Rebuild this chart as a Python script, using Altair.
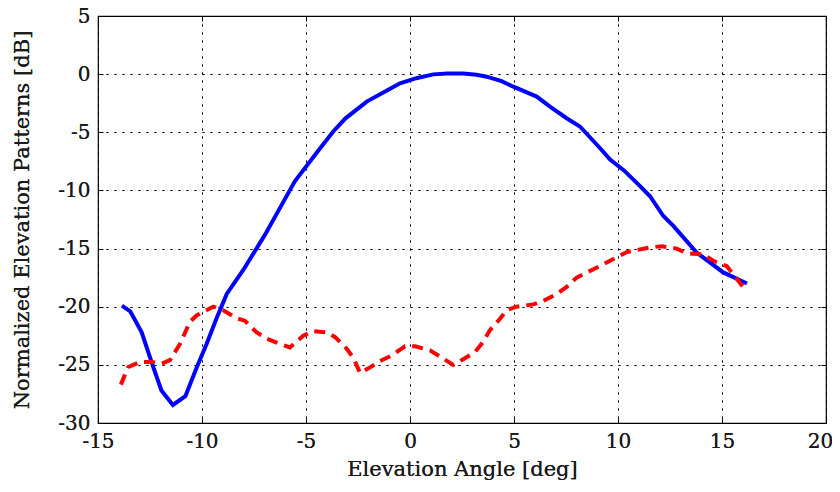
import altair as alt
import pandas as pd

blue_x = [-13.85, -13.45, -12.9, -12.4, -11.95, -11.4, -10.8, -10.25, -9.78, -9.3, -8.81, -8.0,
          -6.97, -6.25, -5.53, -4.33, -3.69, -3.1, -2.08, -1.0, -0.48, 0.3, 1.12, 1.8, 2.56, 3.2,
          3.69, 4.4, 4.97, 6.09, 6.73, 7.53, 8.17, 9.13, 9.62, 10.3, 11.06, 11.54, 12.18, 12.66,
          13.78, 15.06, 16.2]
blue_y = [-19.9, -20.4, -22.2, -24.9, -27.2, -28.45, -27.7, -25.2, -23.2, -21.0, -18.9, -16.8,
          -13.8, -11.5, -9.2, -6.4, -4.93, -3.8, -2.36, -1.3, -0.79, -0.35, -0.02, 0.05, 0.06, -0.05,
          -0.22, -0.6, -1.08, -1.93, -2.79, -3.79, -4.5, -6.35, -7.35, -8.3, -9.63, -10.5, -12.2, -13.05,
          -15.34, -17.05, -18.0]

red_x = [-13.9, -13.56, -12.98, -12.4, -11.94, -11.54, -11.06, -10.58, -10.26, -9.46, -8.98, -8.34,
         -7.94, -7.38, -6.89, -6.25, -5.77, -5.13, -4.65, -4.0, -3.61, -3.05, -2.72, -2.4, -2.0,
         -1.36, -0.88, -0.24, 0.24, 0.96, 1.36, 2.08, 2.48, 3.13, 3.52, 3.85, 4.25, 4.65, 5.13,
         5.93, 6.41, 7.05, 7.53, 8.01, 9.13, 10.42, 11.54, 12.1, 12.82, 13.3, 14.1, 14.58, 15.22,
         15.54, 16.1]
red_y = [-26.7, -25.2, -24.75, -24.75, -24.9, -24.6, -23.2, -21.3, -20.75, -20.0, -20.3, -21.0,
         -21.2, -22.2, -22.75, -23.2, -23.5, -22.5, -22.1, -22.2, -22.6, -23.6, -24.4, -25.7, -25.3,
         -24.6, -24.2, -23.4, -23.4, -23.75, -24.2, -25.0, -24.6, -23.9, -23.0, -22.0, -21.2, -20.3, -20.0,
         -19.8, -19.5, -18.9, -18.3, -17.5, -16.5, -15.3, -14.9, -14.8, -15.0, -15.4, -15.5, -16.05, -16.5,
         -17.2, -18.5]

x_ticks = [-15, -10, -5, 0, 5, 10, 15, 20]
y_ticks = [5, 0, -5, -10, -15, -20, -25, -30]

FONT = "DejaVu Serif"
LABEL_EXPR = "replace(datum.label, '\u2212', '-')"

blue_df = pd.DataFrame({"angle": blue_x, "db": blue_y, "order": range(len(blue_x))})
red_df = pd.DataFrame({"angle": red_x, "db": red_y, "order": range(len(red_x))})

xs = alt.Scale(domain=[-15, 20], nice=False, zero=False)
ys = alt.Scale(domain=[-30, 5], nice=False, zero=False)

H = 407

main_x_axis = alt.Axis(values=x_ticks, title="Elevation Angle [deg]", orient="bottom",
                       ticks=False, domain=False, grid=True, gridColor="#000", gridDash=[2, 6],
                       gridOpacity=0.85, labelPadding=8, labelFont=FONT, labelFontSize=20,
                       labelColor="#1a1a1a", titleFont=FONT, titleFontSize=21, titleFontWeight="normal",
                       titleColor="#1a1a1a", labelOverlap=False, labelBound=False, labelFlush=False,
                       labelExpr=LABEL_EXPR,
                       labelOffset={"condition": {"test": "datum.value == 20", "value": -6}, "value": 0},
                       titleX=364, titleY=46, titleBaseline="middle")
main_y_axis = alt.Axis(values=y_ticks, title="Normalized Elevation Patterns [dB]", orient="left",
                       ticks=False, domain=False, grid=True, gridColor="#000", gridDash=[2, 6],
                       gridOpacity=0.85, labelPadding=8, labelFont=FONT, labelFontSize=20,
                       labelColor="#1a1a1a", titleFont=FONT, titleFontSize=21, titleFontWeight="normal",
                       titleColor="#1a1a1a", labelOverlap=False, labelBound=False, labelFlush=False,
                       labelExpr=LABEL_EXPR,
                       titleX=-76, titleY=H / 2, titleAngle=270, titleBaseline="middle")

blue = alt.Chart(blue_df).mark_line(color="#0000ff", strokeWidth=4).encode(
    x=alt.X("angle:Q", scale=xs, axis=main_x_axis),
    y=alt.Y("db:Q", scale=ys, axis=main_y_axis),
    order="order:Q",
)
red = alt.Chart(red_df).mark_line(color="#ff0000", strokeWidth=4, strokeDash=[11, 7]).encode(
    x=alt.X("angle:Q", scale=xs, axis=main_x_axis),
    y=alt.Y("db:Q", scale=ys, axis=main_y_axis),
    order="order:Q",
)

def tick_axis(orient, values):
    return alt.Axis(values=values, orient=orient, title=None, labels=False, domain=False,
                    grid=False, ticks=True, tickSize=5, tickColor="#000", tickWidth=1, offset=-5)

ticks_tr = alt.Chart(blue_df).mark_line(opacity=0).encode(
    x=alt.X("angle:Q", scale=xs, axis=tick_axis("top", x_ticks)),
    y=alt.Y("db:Q", scale=ys, axis=tick_axis("right", y_ticks)),
)
ticks_bl = alt.Chart(blue_df).mark_line(opacity=0).encode(
    x=alt.X("angle:Q", scale=xs, axis=tick_axis("bottom", x_ticks)),
    y=alt.Y("db:Q", scale=ys, axis=tick_axis("left", y_ticks)),
)

chart = alt.layer(blue, red, ticks_tr, ticks_bl).resolve_axis(
    x="independent", y="independent"
).properties(
    width=728, height=H,
    autosize=alt.AutoSizeParams(type="none"),
    padding={"left": 90, "top": 8, "right": 6, "bottom": 60},
).configure_view(stroke="#000", strokeWidth=1.2)

chart.save("out.html", embed_options={"renderer": "svg", "actions": False})
